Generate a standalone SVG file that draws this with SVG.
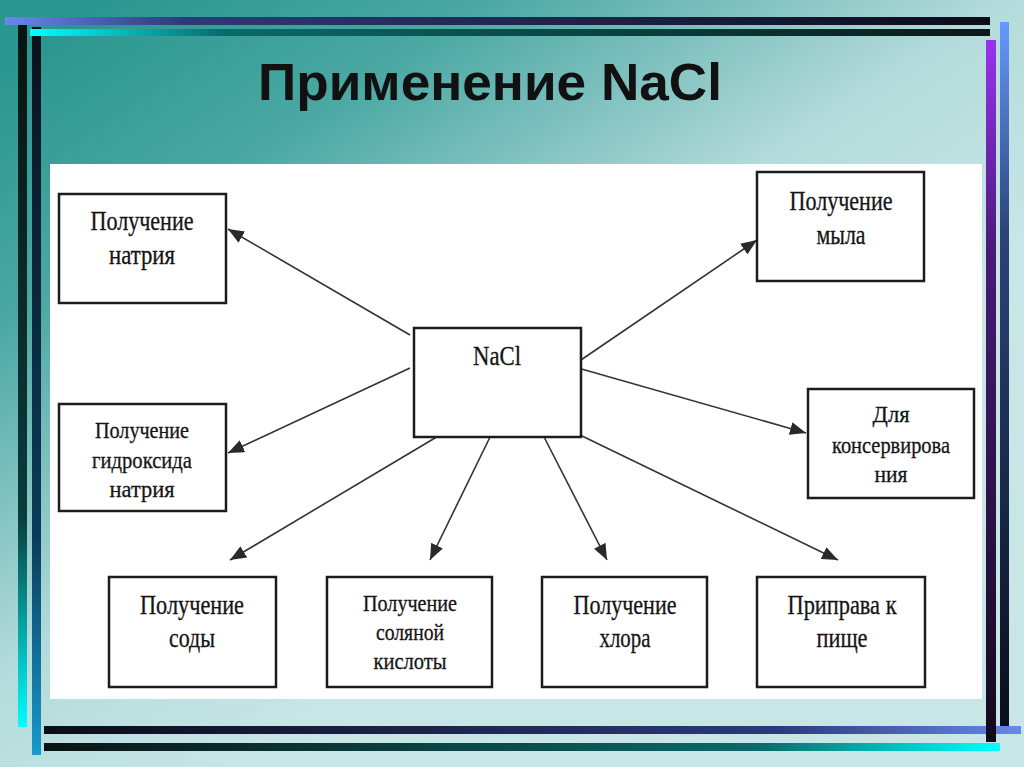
<svg xmlns="http://www.w3.org/2000/svg" width="1024" height="767" viewBox="0 0 1024 767">
<defs>
<linearGradient id="bg" gradientUnits="userSpaceOnUse" x1="100" y1="0" x2="500" y2="600">
<stop offset="0" stop-color="#2a968f"/>
<stop offset="0.3" stop-color="#4ba8a3"/>
<stop offset="0.7" stop-color="#b4dbdb"/>
<stop offset="1" stop-color="#c8e6e6"/>
</linearGradient>
<linearGradient id="gTop1" x1="0" y1="0" x2="1" y2="0">
<stop offset="0" stop-color="#6688ee"/>
<stop offset="0.18" stop-color="#2c3b78"/>
<stop offset="1" stop-color="#0b0b18"/>
</linearGradient>
<linearGradient id="gTop2" x1="0" y1="0" x2="1" y2="0">
<stop offset="0" stop-color="#00ffff"/>
<stop offset="0.2" stop-color="#0b6a6a"/>
<stop offset="1" stop-color="#0a1818"/>
</linearGradient>
<linearGradient id="gLeft1" x1="0" y1="0" x2="0" y2="1">
<stop offset="0" stop-color="#081410"/>
<stop offset="0.7" stop-color="#0a3c3c"/>
<stop offset="1" stop-color="#00ffff"/>
</linearGradient>
<linearGradient id="gLeft2" x1="0" y1="0" x2="0" y2="1">
<stop offset="0" stop-color="#08121c"/>
<stop offset="0.7" stop-color="#0a3c5a"/>
<stop offset="1" stop-color="#1899cc"/>
</linearGradient>
<linearGradient id="gBot1" x1="0" y1="0" x2="1" y2="0">
<stop offset="0" stop-color="#0b0b18"/>
<stop offset="0.75" stop-color="#2c3b78"/>
<stop offset="1" stop-color="#6688ee"/>
</linearGradient>
<linearGradient id="gBot2" x1="0" y1="0" x2="1" y2="0">
<stop offset="0" stop-color="#0a1414"/>
<stop offset="0.75" stop-color="#0b6a6a"/>
<stop offset="1" stop-color="#00ffff"/>
</linearGradient>
<linearGradient id="gRight1" x1="0" y1="0" x2="0" y2="1">
<stop offset="0" stop-color="#9933ee"/>
<stop offset="0.3" stop-color="#4a1a78"/>
<stop offset="1" stop-color="#120a1c"/>
</linearGradient>
<linearGradient id="gRight2" x1="0" y1="0" x2="0" y2="1">
<stop offset="0" stop-color="#6699ff"/>
<stop offset="0.3" stop-color="#2c4478"/>
<stop offset="1" stop-color="#0a0e1a"/>
</linearGradient>
<marker id="arr" markerUnits="userSpaceOnUse" markerWidth="16" markerHeight="13" refX="16" refY="6.5" orient="auto" viewBox="0 0 16 13">
<path d="M0,0 L16,6.5 L0,13 z" fill="#2a2a2a"/>
</marker>
<style>
.box{fill:#ffffff;stroke:#1c1c1c;stroke-width:2.5}
.t{font-family:"Liberation Serif","DejaVu Serif",serif;font-size:27px;fill:#151515;stroke:#151515;stroke-width:0.3;text-anchor:middle}
.s{font-size:24px}
.ln{stroke:#333;stroke-width:1.6;fill:none;marker-end:url(#arr)}
</style>
</defs>
<rect x="0" y="0" width="1024" height="767" fill="url(#bg)"/>
<rect x="50" y="164" width="932" height="535" fill="#ffffff"/>
<g id="frame">
<rect x="1000" y="22" width="9" height="704" fill="url(#gRight2)"/>
<rect x="18" y="25" width="9" height="702" fill="url(#gLeft1)"/>
<rect x="32" y="27" width="9" height="728" fill="url(#gLeft2)"/>
<rect x="5" y="17" width="985" height="8" fill="url(#gTop1)"/>
<rect x="30" y="29" width="960" height="7" fill="url(#gTop2)"/>
<rect x="44" y="726" width="977" height="8" fill="url(#gBot1)"/>
<rect x="44" y="743" width="956" height="8" fill="url(#gBot2)"/>
<rect x="986" y="40" width="10" height="702" fill="url(#gRight1)"/>
</g>
<text x="258" y="100" font-family="Liberation Sans, Arial, sans-serif" font-weight="bold" font-size="52" fill="#111" textLength="464" lengthAdjust="spacingAndGlyphs">Применение NaCl</text>
<g id="connectors">
<line class="ln" x1="410" y1="335" x2="228" y2="229"/>
<line class="ln" x1="578" y1="362" x2="757" y2="240"/>
<line class="ln" x1="578" y1="368" x2="806" y2="433"/>
<line class="ln" x1="410" y1="368" x2="228" y2="453"/>
<line class="ln" x1="440" y1="435" x2="230" y2="560"/>
<line class="ln" x1="492" y1="433" x2="430" y2="560"/>
<line class="ln" x1="542" y1="433" x2="607" y2="560"/>
<line class="ln" x1="580" y1="435" x2="838" y2="560"/>
</g>
<g id="nacl">
<rect class="box" x="414" y="328" width="167" height="109"/>
<text class="t" x="497" y="365" textLength="48" lengthAdjust="spacingAndGlyphs">NaCl</text>
</g>
<g id="natrium">
<rect class="box" x="59" y="194" width="167" height="109"/>
<text class="t" x="142" y="230" textLength="103" lengthAdjust="spacingAndGlyphs">Получение</text>
<text class="t" x="142" y="264" textLength="66" lengthAdjust="spacingAndGlyphs">натрия</text>
</g>
<g id="mylo">
<rect class="box" x="757" y="172" width="167" height="109"/>
<text class="t" x="841" y="210" textLength="103" lengthAdjust="spacingAndGlyphs">Получение</text>
<text class="t" x="841" y="244" textLength="49" lengthAdjust="spacingAndGlyphs">мыла</text>
</g>
<g id="konserv">
<rect class="box" x="808" y="389" width="166" height="109"/>
<text class="t s" x="891" y="422" textLength="37" lengthAdjust="spacingAndGlyphs">Для</text>
<text class="t s" x="891" y="453" textLength="118" lengthAdjust="spacingAndGlyphs">консервирова</text>
<text class="t s" x="891" y="482" textLength="33" lengthAdjust="spacingAndGlyphs">ния</text>
</g>
<g id="gidroksid">
<rect class="box" x="59" y="404" width="167" height="107"/>
<text class="t s" x="142" y="438" textLength="94" lengthAdjust="spacingAndGlyphs">Получение</text>
<text class="t s" x="142" y="468" textLength="100" lengthAdjust="spacingAndGlyphs">гидроксида</text>
<text class="t s" x="142" y="497" textLength="65" lengthAdjust="spacingAndGlyphs">натрия</text>
</g>
<g id="soda">
<rect class="box" x="109" y="577" width="167" height="110"/>
<text class="t" x="192" y="614" textLength="104" lengthAdjust="spacingAndGlyphs">Получение</text>
<text class="t" x="192" y="647" textLength="46" lengthAdjust="spacingAndGlyphs">соды</text>
</g>
<g id="kislota">
<rect class="box" x="327" y="577" width="165" height="110"/>
<text class="t s" x="410" y="611" textLength="94" lengthAdjust="spacingAndGlyphs">Получение</text>
<text class="t s" x="410" y="640" textLength="68" lengthAdjust="spacingAndGlyphs">соляной</text>
<text class="t s" x="410" y="669" textLength="73" lengthAdjust="spacingAndGlyphs">кислоты</text>
</g>
<g id="hlor">
<rect class="box" x="542" y="577" width="165" height="110"/>
<text class="t" x="625" y="614" textLength="103" lengthAdjust="spacingAndGlyphs">Получение</text>
<text class="t" x="625" y="647" textLength="51" lengthAdjust="spacingAndGlyphs">хлора</text>
</g>
<g id="pripava">
<rect class="box" x="757" y="577" width="168" height="110"/>
<text class="t" x="842" y="614" textLength="109" lengthAdjust="spacingAndGlyphs">Приправа к</text>
<text class="t" x="842" y="647" textLength="51" lengthAdjust="spacingAndGlyphs">пище</text>
</g>
</svg>
